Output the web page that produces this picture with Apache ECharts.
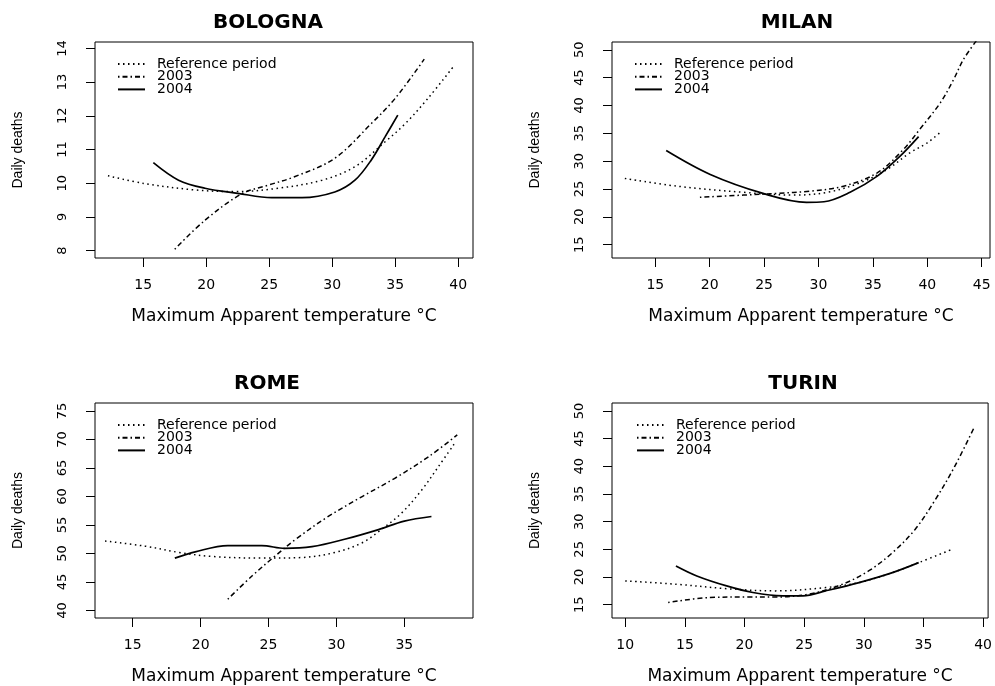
<!DOCTYPE html>
<html>
<head>
<meta charset="utf-8">
<script src="https://cdn.jsdelivr.net/npm/echarts@6/dist/echarts.min.js"></script>
<style>
  html, body { margin: 0; padding: 0; background: #fff; }
  #main { width: 995px; height: 686px; }
</style>
</head>
<body>
<div id="main"></div>
<script>
  // values: [temperature, daily deaths]
  const bolognaRef = [[12.2, 10.22], [15.1, 9.99], [19.1, 9.8], [22.3, 9.75], [25.7, 9.85], [29.2, 10.09], [31.8, 10.49], [34.2, 11.23], [35.8, 11.77], [37.6, 12.52], [39.7, 13.5]]
  const bologna2003 = [[17.5, 8.04], [19.9, 8.9], [22.8, 9.68], [24.9, 9.94], [27.0, 10.19], [30.2, 10.74], [33.1, 11.77], [35.0, 12.52], [37.3, 13.68]]
  const bologna2004 = [[15.8, 10.61], [17.8, 10.09], [19.9, 9.85], [22.5, 9.7], [25.2, 9.57], [27.6, 9.57], [30.2, 9.74], [31.8, 10.09], [33.1, 10.69], [34.2, 11.38], [35.2, 12.02]]

  const milanRef = [[12.2, 26.9], [17.0, 25.5], [23.1, 24.4], [27.7, 23.9], [30.8, 24.4], [33.8, 26.1], [36.3, 28.5], [38.4, 31.5], [40.0, 33.3], [41.2, 35.2]]
  const milan2003 = [[19.1, 23.5], [23.1, 23.9], [26.2, 24.2], [29.2, 24.6], [32.3, 25.5], [35.4, 27.9], [37.8, 32.1], [39.3, 35.7], [41.2, 40.5], [42.4, 44.6], [43.3, 48.2], [44.5, 51.6]]
  const milan2004 = [[16.0, 31.9], [20.05, 27.6], [24.9, 24.2], [28.9, 22.6], [30.5, 22.7], [32.9, 24.4], [35.4, 27.3], [37.5, 30.9], [39.2, 34.4]]

  const romeRef = [[12.96, 52.2], [15.9, 51.3], [18.4, 50.2], [20.8, 49.5], [24.5, 49.2], [27.4, 49.3], [29.9, 50.2], [31.9, 51.9], [33.3, 54.2], [34.8, 57.1], [36.3, 61.2], [37.5, 65.2], [38.7, 69.3]]
  const rome2003 = [[22.0, 42.0], [23.8, 46.1], [25.5, 49.6], [27.0, 52.5], [29.4, 56.5], [31.9, 60.0], [34.3, 63.2], [36.8, 67.0], [38.9, 70.8]]
  const rome2004 = [[18.1, 49.2], [19.6, 50.3], [22.0, 51.4], [24.5, 51.4], [26.2, 50.9], [28.2, 51.2], [30.6, 52.5], [33.1, 54.2], [35.0, 55.7], [37.0, 56.5]]

  const turinRef = [[10.0, 19.3], [14.3, 18.7], [18.5, 17.9], [22.6, 17.5], [26.8, 18.1], [29.6, 19.0], [32.4, 20.8], [34.6, 22.6], [37.4, 25.0]]
  const turin2003 = [[13.6, 15.4], [17.1, 16.3], [20.4, 16.4], [22.6, 16.4], [25.4, 16.9], [28.2, 18.7], [30.4, 21.1], [32.4, 24.4], [34.3, 28.6], [36.0, 34.0], [37.6, 39.9], [39.2, 46.8]]
  const turin2004 = [[14.25, 22.0], [16.0, 20.2], [18.5, 18.4], [20.7, 17.2], [23.2, 16.6], [24.9, 16.6], [26.8, 17.5], [29.6, 19.0], [32.4, 20.8], [34.6, 22.6]]

  // tick labels
  const bolognaXTicks = [15, 20, 25, 30, 35, 40]
  const bolognaYTicks = [8, 9, 10, 11, 12, 13, 14]
  const milanXTicks = [15, 20, 25, 30, 35, 40, 45]
  const milanYTicks = [15, 20, 25, 30, 35, 40, 45, 50]
  const romeXTicks = [15, 20, 25, 30, 35]
  const romeYTicks = [40, 45, 50, 55, 60, 65, 70, 75]
  const turinXTicks = [10, 15, 20, 25, 30, 35, 40]
  const turinYTicks = [15, 20, 25, 30, 35, 40, 45, 50]

  const seriesNames = ['Reference period', '2003', '2004']
  const font = 'DejaVu Sans'

  const panels = [
    { title: 'BOLOGNA', left: 95, top: 42, x: [11.17, 41.17], y: [7.78, 14.19], xTicks: bolognaXTicks, yTicks: bolognaYTicks, lines: [bolognaRef, bologna2003, bologna2004], titleX: 263, legendLeft: 117 },
    { title: 'MILAN', left: 612, top: 42, x: [11.02, 45.76], y: [12.6, 51.4], xTicks: milanXTicks, yTicks: milanYTicks, lines: [milanRef, milan2003, milan2004], titleX: 792, legendLeft: 634 },
    { title: 'ROME', left: 95, top: 403, x: [12.22, 40.06], y: [38.7, 76.4], xTicks: romeXTicks, yTicks: romeYTicks, lines: [romeRef, rome2003, rome2004], titleX: 262, legendLeft: 117 },
    { title: 'TURIN', left: 612, top: 403, x: [8.89, 40.42], y: [12.6, 51.44], xTicks: turinXTicks, yTicks: turinYTicks, lines: [turinRef, turin2003, turin2004], titleX: 798, legendLeft: 636 }
  ]

  const lineStyles = [
    { width: 1.5, type: [1.5, 3.5] },
    { width: 1.5, type: [1.5, 3, 5, 3] },
    { width: 1.7, type: 'solid' }
  ]

  const chart = echarts.init(document.getElementById('main'))
  const option = {
    backgroundColor: '#fff',
    animation: false,
    title: [],
    legend: [],
    grid: [],
    xAxis: [],
    yAxis: [],
    series: []
  }

  panels.forEach(function(p, i) {
    const gw = 378, gh = 216
    option.title.push({
      text: p.title,
      left: p.titleX,
      top: p.top - 34,
      textAlign: 'center',
      textStyle: { fontFamily: font, fontSize: 20, fontWeight: 'bold', color: '#000' }
    })
    option.legend.push({
      data: seriesNames,
      orient: 'vertical',
      left: p.legendLeft,
      top: p.top + 15,
      padding: 0,
      itemWidth: 27,
      itemHeight: 10,
      itemGap: -1.3,
      selectedMode: false,
      itemStyle: { color: 'transparent', borderColor: 'transparent', borderWidth: 0, opacity: 0 },
      textStyle: { fontFamily: font, fontSize: 14, color: '#000', lineHeight: 12.7, padding: [0, 0, 0, 7] }
    })
    option.grid.push({
      left: p.left, top: p.top, width: gw, height: gh,
      show: true, borderColor: '#000', borderWidth: 1, backgroundColor: 'transparent'
    })
    option.xAxis.push({
      type: 'value', gridIndex: i, min: p.x[0], max: p.x[1],
      name: 'Maximum Apparent temperature °C',
      nameLocation: 'middle', nameGap: 50,
      nameTextStyle: { fontFamily: font, fontSize: 17, color: '#000' },
      axisLine: { show: false },
      axisTick: { show: true, length: 9, customValues: p.xTicks, lineStyle: { color: '#000' } },
      axisLabel: { customValues: p.xTicks, margin: 20, fontFamily: font, fontSize: 14, color: '#000' },
      splitLine: { show: false }
    })
    option.yAxis.push({
      type: 'value', gridIndex: i, min: p.y[0], max: p.y[1],
      name: 'Daily deaths',
      nameLocation: 'middle', nameGap: 70,
      nameTextStyle: { fontFamily: 'Liberation Sans', fontSize: 14, color: '#000' },
      axisLine: { show: false },
      axisTick: { show: true, length: 9, customValues: p.yTicks, lineStyle: { color: '#000' } },
      axisLabel: { customValues: p.yTicks, rotate: 90, margin: 26, fontFamily: font, fontSize: 13, color: '#000' },
      splitLine: { show: false }
    })
    p.lines.forEach(function(d, k) {
      option.series.push({
        name: seriesNames[k],
        type: 'line',
        xAxisIndex: i,
        yAxisIndex: i,
        data: d,
        symbol: 'none',
        smooth: 0.35,
        clip: true,
        silent: true,
        itemStyle: { color: '#000' },
        lineStyle: { color: '#000', width: lineStyles[k].width, type: lineStyles[k].type }
      })
    })
  })

  chart.setOption(option)
</script>
</body>
</html>
